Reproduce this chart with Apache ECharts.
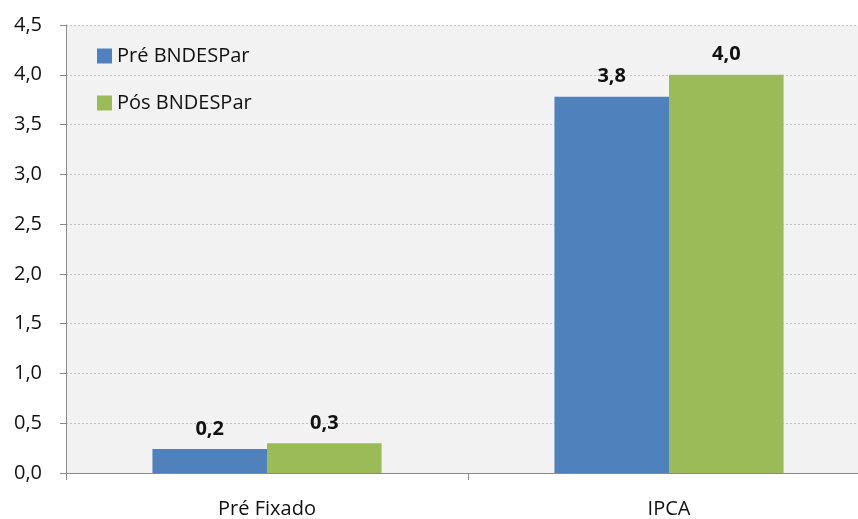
<!DOCTYPE html>
<html>
<head>
<meta charset="utf-8">
<script src="https://cdn.jsdelivr.net/npm/echarts@6/dist/echarts.min.js"></script>
<style>
  html, body { margin: 0; padding: 0; background: #ffffff; overflow: hidden; }
  /* the plot area runs a little past the right edge of the page */
  #chart { width: 871px; height: 519px; }
</style>
</head>
<body>
<div id="chart"></div>
<script>
// Categories, series and axis ticks
const categories = ['Pré Fixado', 'IPCA'];
const seriesNames = ['Pré BNDESPar', 'Pós BNDESPar'];
const preValues = [0.24, 3.78];
const posValues = [0.30, 4.00];
const yTicks = [0, 0.5, 1, 1.5, 2, 2.5, 3, 3.5, 4, 4.5];

const FONT = '"Open Sans", "Noto Sans", sans-serif';
const TEXT = '#111111';
const AXIS = '#898989';
const fmt = v => Number(v).toFixed(1).replace('.', ',');

const chart = echarts.init(document.getElementById('chart'), null, { renderer: 'canvas' });

const labelStyle = {
  show: true,
  position: 'top',
  distance: 10,
  fontFamily: FONT,
  fontWeight: 'bold',
  fontSize: 20,
  color: TEXT,
  formatter: p => fmt(p.value)
};

chart.setOption({
  animation: false,
  backgroundColor: '#ffffff',
  grid: {
    left: 66, right: 1, top: 25, bottom: 43,
    show: true, backgroundColor: '#F2F2F2', borderWidth: 0
  },
  legend: {
    orient: 'vertical',
    left: 92, top: 41,
    itemWidth: 15, itemHeight: 15, itemGap: 27,
    icon: 'rect',
    textStyle: { fontFamily: FONT, fontSize: 20, lineHeight: 20, color: TEXT },
    data: seriesNames
  },
  xAxis: {
    type: 'category',
    data: categories,
    axisLine: { lineStyle: { color: AXIS, width: 1 } },
    axisTick: { show: true, length: 7, lineStyle: { color: AXIS } },
    axisLabel: { fontFamily: FONT, fontSize: 20, color: TEXT, margin: 26 }
  },
  yAxis: {
    type: 'value',
    min: yTicks[0],
    max: yTicks[yTicks.length - 1],
    interval: yTicks[1] - yTicks[0],
    axisLine: { show: true, lineStyle: { color: AXIS, width: 1 } },
    axisTick: { show: true, length: 6, inside: false, lineStyle: { color: AXIS } },
    axisLabel: { fontFamily: FONT, fontSize: 20, color: TEXT, margin: 24, formatter: v => fmt(v) },
    splitLine: { show: true, lineStyle: { color: '#C4C4C4', type: [2, 2], width: 1 } }
  },
  series: [
    {
      name: seriesNames[0], type: 'bar', data: preValues,
      itemStyle: { color: '#4F81BD' },
      barGap: '0%', barCategoryGap: '43%',
      label: labelStyle
    },
    {
      name: seriesNames[1], type: 'bar', data: posValues,
      itemStyle: { color: '#9BBB59' },
      label: labelStyle
    }
  ]
});
</script>
</body>
</html>
